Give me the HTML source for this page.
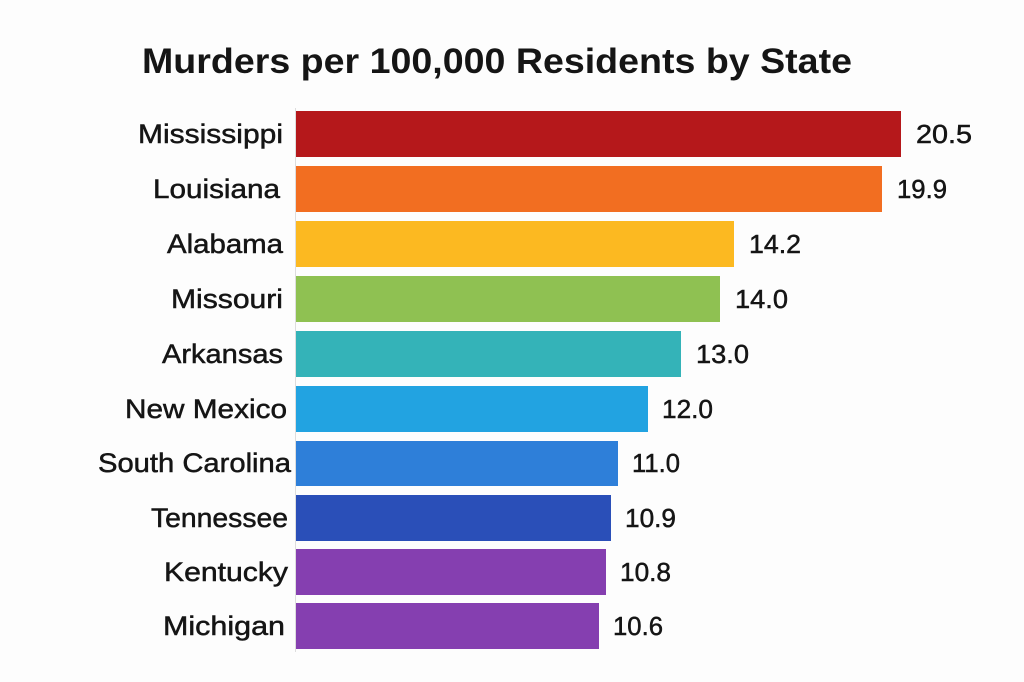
<!DOCTYPE html>
<html><head><meta charset="utf-8"><style>
html,body{margin:0;padding:0;background:#fdfdfd;}
svg{display:block;}
text{font-family:"Liberation Sans",sans-serif;fill:#151515;}
.l{font-size:27px;stroke:#151515;stroke-width:0.5px;}
.v{font-size:26px;stroke:#151515;stroke-width:0.5px;}
</style></head><body>
<svg width="1024" height="682" viewBox="0 0 1024 682">
<rect width="1024" height="682" fill="#fdfdfd"/>
<text x="142" y="73" font-size="35" font-weight="bold" textLength="710" lengthAdjust="spacingAndGlyphs">Murders per 100,000 Residents by State</text>
<line x1="295.5" y1="108" x2="295.5" y2="652" stroke="#ddd" stroke-width="1"/>
<g>
<rect x="296" y="111" width="605" height="46" fill="#b5181b"/>
<rect x="296" y="166" width="586" height="46" fill="#f26e21"/>
<rect x="296" y="221" width="438" height="46" fill="#fcb921"/>
<rect x="296" y="276" width="424" height="46" fill="#8fc152"/>
<rect x="296" y="331" width="385" height="46" fill="#34b3b8"/>
<rect x="296" y="386" width="352" height="46" fill="#22a3e1"/>
<rect x="296" y="441" width="322" height="45" fill="#2e7fd9"/>
<rect x="296" y="495" width="315" height="46" fill="#2a4fb8"/>
<rect x="296" y="549" width="310" height="46" fill="#853fb0"/>
<rect x="296" y="603" width="303" height="46" fill="#853fb0"/>
</g>
<g lengthAdjust="spacingAndGlyphs">
<text class="l" x="138" y="143" textLength="145" lengthAdjust="spacingAndGlyphs">Mississippi</text>
<text class="l" x="153" y="198" textLength="127" lengthAdjust="spacingAndGlyphs">Louisiana</text>
<text class="l" x="167" y="253" textLength="116" lengthAdjust="spacingAndGlyphs">Alabama</text>
<text class="l" x="171" y="308" textLength="112" lengthAdjust="spacingAndGlyphs">Missouri</text>
<text class="l" x="162" y="363" textLength="121" lengthAdjust="spacingAndGlyphs">Arkansas</text>
<text class="l" x="125" y="418" textLength="162" lengthAdjust="spacingAndGlyphs">New Mexico</text>
<text class="l" x="98" y="472" textLength="193" lengthAdjust="spacingAndGlyphs">South Carolina</text>
<text class="l" x="151" y="527" textLength="137" lengthAdjust="spacingAndGlyphs">Tennessee</text>
<text class="l" x="164" y="581" textLength="124" lengthAdjust="spacingAndGlyphs">Kentucky</text>
<text class="l" x="163" y="635" textLength="122" lengthAdjust="spacingAndGlyphs">Michigan</text>
</g>
<g>
<text class="v" x="916" y="143" textLength="56" lengthAdjust="spacingAndGlyphs">20.5</text>
<text class="v" x="897" y="198" textLength="50" lengthAdjust="spacingAndGlyphs">19.9</text>
<text class="v" x="749" y="253" textLength="52" lengthAdjust="spacingAndGlyphs">14.2</text>
<text class="v" x="735" y="308" textLength="53" lengthAdjust="spacingAndGlyphs">14.0</text>
<text class="v" x="696" y="363" textLength="53" lengthAdjust="spacingAndGlyphs">13.0</text>
<text class="v" x="662" y="418" textLength="51" lengthAdjust="spacingAndGlyphs">12.0</text>
<text class="v" x="632" y="472" textLength="48" lengthAdjust="spacingAndGlyphs">11.0</text>
<text class="v" x="625" y="527" textLength="51" lengthAdjust="spacingAndGlyphs">10.9</text>
<text class="v" x="620" y="581" textLength="51" lengthAdjust="spacingAndGlyphs">10.8</text>
<text class="v" x="613" y="635" textLength="50" lengthAdjust="spacingAndGlyphs">10.6</text>
</g>
</svg>
</body></html>
